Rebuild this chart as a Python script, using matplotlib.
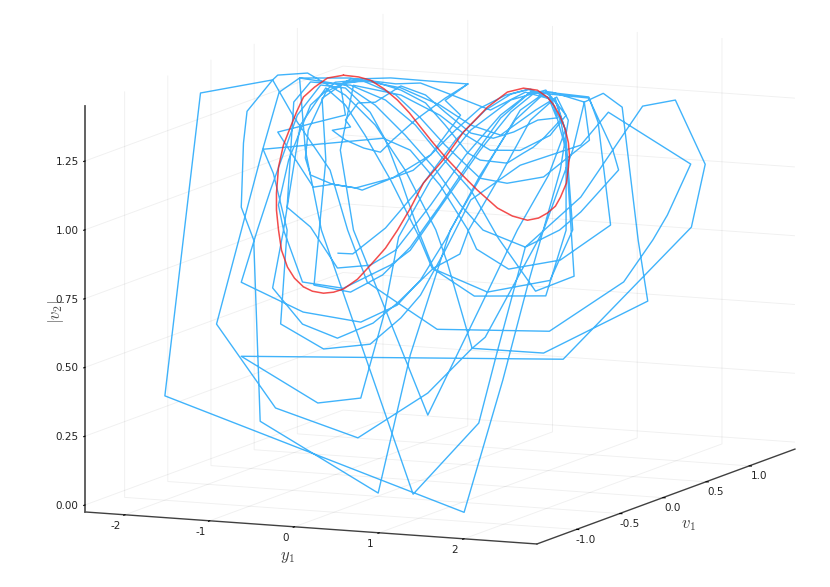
import matplotlib
matplotlib.use("Agg")
import matplotlib.pyplot as plt
from mpl_toolkits.mplot3d import proj3d

plt.rcParams['mathtext.fontset'] = 'cm'

# axis ranges and ticks
y1_lim = (-2.472, 2.861)
v1_lim = (-1.459, 1.529)
v_lim = (-0.0254, 1.45)
y1_ticks = [-2, -1, 0, 1, 2]
y1_labels = ['-2', '-1', '0', '1', '2']
v1_ticks = [-1.0, -0.5, 0.0, 0.5, 1.0]
v1_labels = ['-1.0', '-0.5', '0.0', '0.5', '1.0']
v_ticks = [0.0, 0.25, 0.5, 0.75, 1.0, 1.25]
v_labels = ['0.00', '0.25', '0.50', '0.75', '1.00', '1.25']

# trajectory (depth v1 is only an estimate)
y1_blue = [
    -.656, -.544, -.28, 0, .28, .52, .72, .88, 1.024, 1.088,
    .936, .744, .584, .40, .20, .04, -.16, -.36, -.504, -.60, -.56, -.704, -.60, -.456, -.32, -.224, -.04, .20, .376,
    .08, -.24, -.56, -.76, -.896, -.92, -.88, -.704, -.52, -.464, -.224, -.056, .08, .28, .48, .68, .864, 1.04, 1.12,
    .984, .904, .824, .696, .48, .376, .20, .04, -.16, -.384, -.60, -.784, -.76, -.808, -.848, -.56, -.304, -.08, .16, .40, .64, .88, 1.056, 1.312, 1.352, .984, .696, .48, .20, 0, -.20, -.48, -.68, -.88, -1.056, -1.136, -1.096, -.944, -.616, -.24, -.08, .20, .48, .72, .92, 1.056, 1.168, 1.168, 1.0, .432, .096, -.016, -.24, -.44, -.60, -.76,
    -.96, -1.096, -1.184, -.944, -.664, -.376, -.184, .104, .312, .384, .64, .88, 1.08, 1.16, 1.216, 1.04, .536, .104, -.016, -.16, -.28, -.40, -.60, -.80,
    -.984, -1.2, -1.304, -1.432, -.936, -.48, -.184, 0, .20, .48, .76, 1.0, 1.104, 1.168, 1.208, 1.232, .92, .624, .40, .16, -.04, -.28, -.56, -.88, -1.016, -1.064, -.88, -.664, -.40, -.20, .08, .36, .64, .88, 1.344, 1.536, 1.584, 1.28, 1.112, .84, .504, .32, .12, -.12, -.36, -.60, -.968,
    -1.128, -1.256, -1.632, -1.16, -.504, .056, .416, .52, .984, 1.216, 1.312, 1.464, 1.616, 1.744, 1.816, .984, .416, .216, .12, -.12, -.36, -.60, -.904, -1.144, -1.184, -1.384, -1.416, -1.432, -1.336, -1.28, -.336, -.08, .24, .56, .80, 1.0, 1.344, 1.424, 1.52, 1.12, .704, .448, .376, .16, -.08, -.296, -1.256, -1.176, -1.064, -1.12, -.776, -.40, -.16, 0, .20, .40, .80, 1.28, 1.504, 2.16, 1.976, 1.856, 1.624, 1.032, .136, -.16, -.424, -.584, -.72, -1.016, -1.184, -1.76, -2.048, .352, .656, .864, 1.12, 1.184, 1.088, .92, .64, .40, .16, -.16, -.56, -.968, -.92, -.792, -.056, .464, .616, .84, 1.28, 1.776, 2.04, 2.28, 2.168, 1.144, -1.432, -.824, -.48, -.296, -.176, .08, .40, .72, 1.0, 1.168, 1.04, .80, .56, .36, .16, -.16, -.536, -.64, -.536, .056, .536, .776, 1.024, 1.16, 1.08, .84, .56, .20, 0,
    -.20, -.44, -.64, -.60, -1.144, -.856, -.704, -.52, -.224, .08, .32, .20, .376,
]
v1_blue = [
    -.31, -.25, -.13, 0, .13, .24, .34, .41, .48, .51,
    .44, .35, .27, .19, .09, .02, -.07, -.17, -.23, -.28, -.26, -.33, -.28, -.21, -.15, -.10, -.02, .09, .18,
    .04, -.11, -.26, -.35, -.42, -.43, -.41, -.33, -.24, -.22, -.10, -.03, .04, .13, .22, .32, .40, .48, .52,
    .46, .42, .38, .32, .22, .18, .09, .02, -.07, -.18, -.28, -.37, -.35, -.38, -.40, -.26, -.14, -.04, .07, .19, .30, .41, .49, .61, .63, .46, .32, .22, .09, 0, -.09, -.22, -.32, -.41, -.49, -.53, -.51, -.44, -.29, -.11, -.04, .09, .22, .34, .43, .49, .54, .54, .47, .20, .04, -.01, -.11, -.21, -.28, -.35,
    -.45, -.51, -.55, -.44, -.31, -.18, -.09, .05, .15, .18, .30, .41, .50, .54, .57, .48, .25, .05, -.01, -.07, -.13, -.19, -.28, -.37,
    -.46, -.56, -.61, -.67, -.44, -.22, -.09, 0, .09, .22, .35, .47, .51, .54, .56, .57, .43, .29, .19, .07, -.02, -.13, -.26, -.41, -.47, -.50, -.41, -.31, -.19, -.09, .04, .17, .30, .41, .63, .72, .74, .60, .52, .39, .23, .15, .06, -.06, -.17, -.28, -.45,
    -.53, -.59, -.76, -.54, -.23, .03, .19, .24, .46, .57, .61, .68, .75, .81, .85, .46, .19, .10, .06, -.06, -.17, -.28, -.42, -.53, -.55, -.65, -.66, -.67, -.62, -.60, -.16, -.04, .11, .26, .37, .47, .63, .66, .71, .52, .33, .21, .18, .07, -.04, -.14, -.59, -.55, -.50, -.52, -.36, -.19, -.07, 0, .09, .19, .37, .60, .70, 1.01, .92, .87, .76, .48, .06, -.07, -.20, -.27, -.34, -.47, -.55, -.82, -.95, .16, .31, .40, .52, .55, .51, .43, .30, .19, .07, -.07, -.26, -.45, -.43, -.37, -.03, .22, .29, .39, .60, .83, .95, 1.06, 1.01, .53, -.67, -.38, -.22, -.14, -.08, .04, .19, .34, .47, .54, .48, .37, .26, .17, .07, -.07, -.25, -.30, -.25, .03, .25, .36, .48, .54, .50, .39, .26, .09, 0,
    -.09, -.21, -.30, -.28, -.53, -.40, -.33, -.24, -.10, .04, .15, .09, .18,
]
v_blue = [
    .822, .815, .901, 1.041, 1.202, 1.304, 1.355, 1.369, 1.331, 1.257,
    1.254, 1.217, 1.200, 1.224, 1.307, 1.374, 1.413, 1.361, 1.362, 1.304, 1.277, 1.270, 1.231, 1.197, 1.178, 1.219, 1.286, 1.358, 1.403,
    1.423, 1.445, 1.451, 1.410, 1.277, 1.176, 1.113, 1.074, 1.054, 1.045, 1.081, 1.104, 1.155, 1.239, 1.313, 1.353, 1.369, 1.331, 1.248,
    1.187, 1.157, 1.138, 1.106, 1.124, 1.152, 1.260, 1.345, 1.398, 1.438, 1.442, 1.389, 1.163, .910, .712, .677, .731, .825, .970, 1.126, 1.271, 1.358, 1.352, 1.308, 1.168, 1.046, 1.033, 1.058, 1.187, 1.292, 1.382, 1.445, 1.444, 1.367, 1.173, 1.012, .920, .726, .693, .765, .814, .987, 1.160, 1.290, 1.357, 1.323, 1.138, .847, .613, .631, .744, .867, 1.074, 1.244, 1.358, 1.425,
    1.297, .920, .712, .573, .513, .559, .625, .743, .787, .872, 1.064, 1.256, 1.330, 1.211, .846, .669, .642, .740, .885, 1.071, 1.221, 1.326, 1.420, 1.437,
    1.334, 1.068, .926, .741, .617, .565, .618, .703, .842, 1.069, 1.260, 1.354, 1.304, 1.138, .846, .678, .633, .835, 1.017, 1.152, 1.268, 1.366, 1.429, 1.451, 1.382, 1.002, .924, .768, .770, .818, .973, 1.145, 1.282, 1.358, 1.321, 1.126, 1.052, .909, .849, .796, .869, .965, 1.099, 1.234, 1.350, 1.431, 1.468,
    1.422, 1.223, .595, .275, .145, .290, .442, .479, .853, 1.136, 1.308, 1.335, 1.280, .792, .568, .406, .442, .758, .881, 1.107, 1.278, 1.394, 1.484, 1.484, 1.468, 1.361, 1.246, 1.014, .891, .231, -.060, .433, .877, 1.121, 1.295, 1.354, 1.325, 1.231, .854, .740, .720, .801, .873, 1.043, 1.178, 1.228, 1.219, 1.129, .919, .579, .477, .483, .570, .648, .805, .981, 1.095, 1.152, 1.265, 1.055, .876, .789, .644, .484, .520, .617, .709, .903, 1.126, 1.328, 1.468, 1.439, .347, -.152, .318, .664, 1.067, 1.246, 1.333, 1.291, 1.209, 1.253, 1.334, 1.406, 1.455, 1.468, 1.205, .910, -.073, .168, .429, .796, .963, 1.278, 1.292, 1.051, .826, .379, .472, .282, .289, .578, .865, 1.064, 1.235, 1.334, 1.361, 1.265, 1.196, 1.149, 1.157, 1.218, 1.297, 1.380, 1.428, 1.196, .902, .210, .642, .860, 1.052, 1.211, 1.322, 1.359, 1.303, 1.379, 1.419,
    1.422, 1.444, 1.435, 1.322, 1.277, 1.068, 1.074, 1.054, 1.081, 1.155, 1.292, 1.350, 1.403,
]

# periodic orbit
y1_red = [
    -.616, -.496, -.40, -.288, -.184, -.088, 0, .096, .20, .328, .456, .616, .736, .856, .944, 1.016, 1.08, 1.12, 1.168, 1.184, 1.192, 1.184, 1.16, 1.12, 1.072, 1.016, .936, .824, .696, .536, .344, .20, .024, -.08, -.184, -.28, -.40, -.504, -.616, -.696, -.776, -.864, -.936, -1.008, -1.064, -1.112, -1.136, -1.152, -1.152, -1.136, -1.096, -1.04, -.992, -.936, -.848, -.744, -.616,
]
v1_red = [
    -.287, -.231, -.186, -.134, -.086, -.041, 0, .045, .093, .153, .212, .287, .343, .399, .440, .473, .503, .522, .544, .552, .555, .552, .541, .522, .500, .473, .436, .384, .324, .250, .160, .093, .011, -.037, -.086, -.130, -.186, -.235, -.287, -.324, -.362, -.403, -.436, -.470, -.496, -.518, -.529, -.537, -.537, -.529, -.511, -.485, -.462, -.436, -.395, -.347, -.287,
]
v_red = [
    1.467, 1.457, 1.442, 1.406, 1.363, 1.313, 1.259, 1.201, 1.143, 1.077, 1.015, .945, .912, .893, .898, .914, .937, .968, 1.018, 1.075, 1.119, 1.163, 1.211, 1.259, 1.301, 1.335, 1.363, 1.374, 1.364, 1.314, 1.230, 1.143, 1.055, .967, .890, .828, .770, .722, .690, .681, .680, .690, .708, .742, .784, .847, .921, .994, 1.056, 1.150, 1.229, 1.292, 1.345, 1.398, 1.431, 1.461, 1.467,
]

W, H = 830, 587
size = 881.7
fig = plt.figure(figsize=(W / 100, H / 100), dpi=100)
ax = fig.add_axes([-12.8 / W, (H - 730.3) / H, size / W, size / H],
                  projection='3d', proj_type='ortho')
ax.view_init(elev=9.29, azim=-66.3)
ax.set_box_aspect((493.6, 642, 411.4))

ax.plot(y1_blue, v1_blue, v_blue, color='#009afa', lw=1.0, alpha=0.75)
ax.plot(y1_red, v1_red, v_red, color='#f02020', lw=1.1, alpha=0.8)

ax.set_xlim(y1_lim)
ax.set_ylim(v1_lim)
ax.set_zlim(v_lim)
ax.set_xticks(y1_ticks, [''] * len(y1_ticks))
ax.set_yticks(v1_ticks, [''] * len(v1_ticks))
ax.set_zticks(v_ticks, [''] * len(v_ticks))

for axis in (ax.xaxis, ax.yaxis, ax.zaxis):
    axis.set_pane_color((1, 1, 1, 0))
    axis.pane.set_edgecolor('none')
    axis.line.set_color('#404040')
    axis.line.set_linewidth(1.0)
    axis._axinfo['grid'].update(color=(0, 0, 0, 0.06), linewidth=0.7)
    axis._axinfo['tick'].update(inward_factor=0.06, outward_factor=0.0)
ax.zaxis.set_ticks_position('lower')
ax.zaxis.line.set_linewidth(1.3)
ax.zaxis.line.set_color('#555555')
ax.tick_params(width=0.8)


# 3d tick labels can't be nudged sideways, so put them next to the projected tick
def tick_label(x, y, z, label, dx, dy):
    px, py, _ = proj3d.proj_transform(x, y, z, ax.get_proj())
    ax.annotate(label, (px, py), xycoords='data', xytext=(dx, dy), textcoords='offset pixels',
                ha='center', va='center', fontsize=7.5, color='#222222')


for t, lab in zip(y1_ticks, y1_labels):
    tick_label(t, v1_lim[0], v_lim[0], lab, -9, -11)
for t, lab in zip(v1_ticks, v1_labels):
    tick_label(y1_lim[1], t, v_lim[0], lab, 9.5, -10.5)
for t, lab in zip(v_ticks, v_labels):
    tick_label(y1_lim[0], v1_lim[0], t, lab, -18, -1)

fig.text(287 / W, 1 - 556 / H, r'$y_1$', fontsize=12, color='#404040', ha='center', va='center')
fig.text(688 / W, 1 - 524 / H, r'$v_1$', fontsize=12, color='#404040', ha='center', va='center')
fig.text(56 / W, 1 - 312 / H, r'$|v_2|$', fontsize=12, color='#505050', ha='center', va='center', rotation=90)

fig.savefig('out.png', dpi=100)
